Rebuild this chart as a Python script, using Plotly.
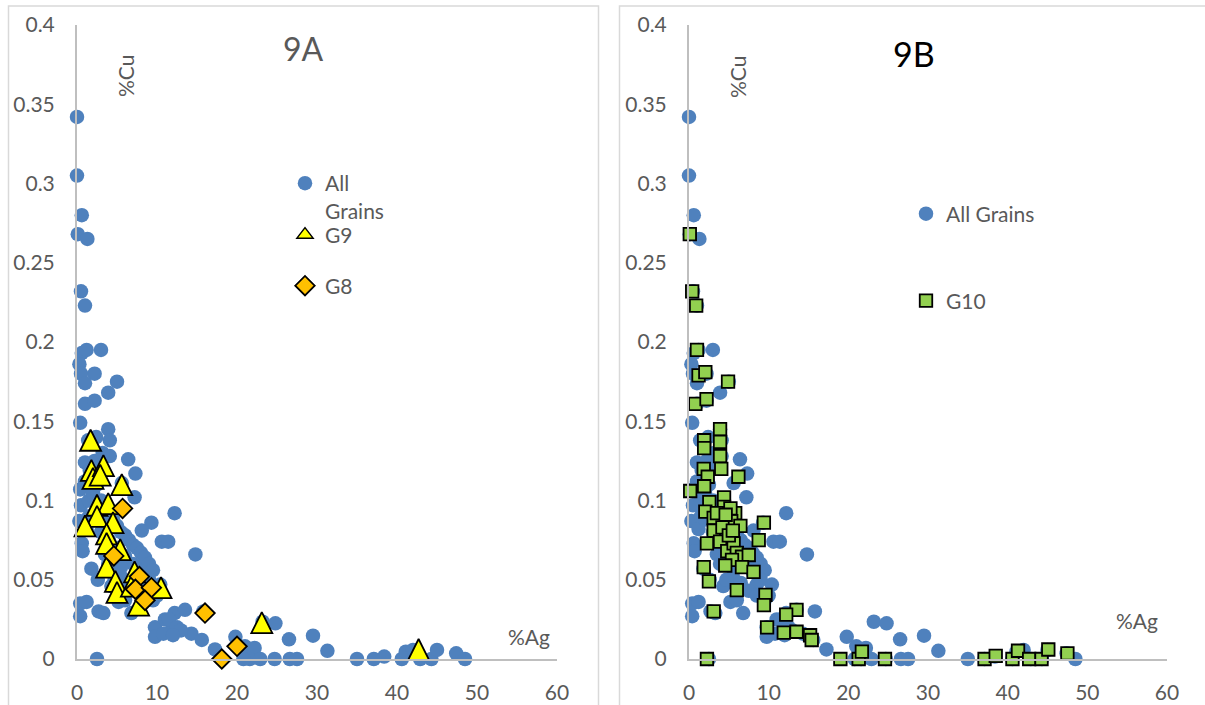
import plotly.graph_objects as go

# ---- data: %Ag (x) and %Cu (y) -------------------------------------------
all_ag = [0.0, 0.0, 0.6, 0.1, 1.3, 0.5, 1.0,
          0.6, 1.2, 3.0, 0.3, 0.5, 2.2, 1.0, 5.0, 3.9, 1.0, 2.2, 0.4,
          3.9, 4.1, 1.4, 2.4, 4.1, 1.0, 6.4, 7.3, 1.6, 2.8, 5.6, 0.4, 7.2, 12.2, 9.3,
          0.5, 0.3, 8.1, 10.6, 11.4, 14.8, 0.6, 0.7,
          1.8, 2.6, 5.2, 6.0, 6.8, 0.4, 1.2, 0.4, 2.7, 3.3, 2.5, 10.4, 7.9, 8.5,
          9.75, 11.0, 12.2, 13.5, 9.75, 11.8, 14.3, 15.6, 15.8, 17.25, 19.8, 21.0,
          22.2, 21.6, 22.9, 20.8, 23.2, 24.8, 26.5, 29.5, 31.3, 24.7, 26.6, 27.5,
          35.0, 37.1, 38.4, 40.6, 41.1, 42.0, 42.9, 44.3, 45.0, 47.4, 48.5,
          1.5, 2.0, 2.5, 3.0, 3.5, 4.0, 4.5, 5.0, 5.5, 6.0, 6.5, 7.0, 7.5, 8.0,
          8.5, 9.0, 9.5, 3.0, 4.0, 5.0, 6.0, 7.0, 8.0, 9.0, 5.5, 6.5, 7.5, 8.5,
          9.5, 1.2, 2.0, 3.5, 4.5, 5.5, 1.0, 2.2, 3.2, 1.5, 4.3, 4.7, 3.9, 10.0,
          11.5, 12.5, 13.0, 10.8, 12.0]
all_cu = [0.342, 0.305, 0.280, 0.268, 0.265, 0.232, 0.223,
          0.193, 0.195, 0.195, 0.186, 0.180, 0.180, 0.174, 0.175, 0.168, 0.161, 0.163, 0.149,
          0.145, 0.138, 0.138, 0.140, 0.128, 0.124, 0.126, 0.117, 0.119, 0.121, 0.111, 0.107, 0.102, 0.092, 0.086,
          0.097, 0.087, 0.081, 0.074, 0.074, 0.066, 0.073, 0.068,
          0.057, 0.050, 0.036, 0.037, 0.029, 0.035, 0.036, 0.027, 0.030, 0.029, 0.0, 0.047, 0.058, 0.047,
          0.020, 0.025, 0.029, 0.031, 0.014, 0.018, 0.016, 0.012, 0.030, 0.006, 0.014, 0.008,
          0.007, 0.0, 0.0, 0.0, 0.0235, 0.0225, 0.0124, 0.0147, 0.0052, 0.0, 0.0, 0.0,
          0.0, 0.0, 0.0015, 0.0, 0.0046, 0.0057, 0.0, 0.0, 0.0057, 0.0036, 0.0,
          0.100, 0.105, 0.110, 0.100, 0.094, 0.090, 0.088, 0.084, 0.080, 0.078, 0.075, 0.072, 0.070, 0.067,
          0.064, 0.060, 0.056, 0.080, 0.075, 0.070, 0.065, 0.060, 0.055, 0.050, 0.052, 0.048, 0.043, 0.040,
          0.037, 0.082, 0.088, 0.066, 0.060, 0.058, 0.112, 0.125, 0.130, 0.090, 0.046, 0.050, 0.060, 0.040,
          0.025, 0.020, 0.018, 0.016, 0.015]

g9_ag = [1.7, 1.8, 2.0, 3.3, 2.9, 5.6, 2.5, 3.9, 2.5, 1.0, 4.5, 3.7, 3.7, 5.4,
         3.7, 4.8, 5.0, 7.2, 6.8, 7.7, 10.5, 23.1, 42.7]
g9_cu = [0.138, 0.119, 0.114, 0.122, 0.116, 0.110, 0.097, 0.098, 0.090, 0.084, 0.086, 0.079, 0.073, 0.069,
         0.058, 0.049, 0.042, 0.055, 0.046, 0.034, 0.045, 0.023, 0.006]

g8_ag = [5.7, 4.6, 7.8, 7.3, 9.3, 8.5, 16.0, 20.0, 18.1]
g8_cu = [0.095, 0.065, 0.052, 0.044, 0.045, 0.037, 0.029, 0.008, 0.0]

g10_ag = [0.1, 0.4, 0.9, 1.0, 1.2, 2.05, 4.9, 0.8, 2.2,
          3.9, 1.9, 3.9, 1.9, 3.9, 1.85, 4.05, 2.35, 1.9, 0.15, 6.2, 2.55, 4.4, 4.4,
          2.05, 5.8, 3.1, 5.3, 6.45, 9.4, 3.1, 2.25, 3.9, 8.75, 4.8, 5.6, 6.0, 6.65,
          7.5, 5.4, 1.85, 4.55, 6.65, 8.1, 2.5, 6.0, 9.6, 9.4, 3.1, 13.5, 12.2, 9.8,
          11.9, 13.5, 15.2, 15.4, 2.25, 19.0, 21.3, 21.7, 24.6, 37.1, 38.5, 40.6,
          41.3, 42.7, 44.25, 45.1, 47.5, 4.2, 5.0, 3.5, 5.2, 4.6, 5.5]
g10_cu = [0.268, 0.232, 0.223, 0.195, 0.179, 0.181, 0.175, 0.161, 0.164,
          0.145, 0.138, 0.137, 0.133, 0.128, 0.120, 0.120, 0.115, 0.109, 0.106, 0.115, 0.099, 0.102, 0.096,
          0.093, 0.092, 0.089, 0.087, 0.084, 0.086, 0.081, 0.073, 0.074, 0.075, 0.068, 0.073, 0.067, 0.0645,
          0.0656, 0.0625, 0.058, 0.059, 0.058, 0.055, 0.049, 0.0435, 0.0404, 0.034, 0.030, 0.031, 0.028, 0.020,
          0.0166, 0.0172, 0.015, 0.012, 0.0, 0.0, 0.0, 0.0046, 0.0, 0.0, 0.002, 0.0,
          0.0052, 0.0, 0.0, 0.006, 0.0036, 0.083, 0.078, 0.092, 0.095, 0.091, 0.081]

x_ticks = [0, 10, 20, 30, 40, 50, 60]
y_ticks = [0, 0.05, 0.1, 0.15, 0.2, 0.25, 0.3, 0.35, 0.4]
y_tick_text = ["0", "0.05", "0.1", "0.15", "0.2", "0.25", "0.3", "0.35", "0.4"]

# ---- styling --------------------------------------------------------------
W, H = 1205, 705
FONT = "Lato, 'Open Sans', sans-serif"
GREY_TXT = "#595959"
AXIS_GREY = "#BFBFBF"
BLUE = "#4F81BD"
YELLOW = "#FFFF00"
TRI = 21  # triangle marker size (px)


def px(xp):
    return xp / W


def py(yp):
    return 1 - yp / H


fig = go.Figure()

common = dict(mode="markers", cliponaxis=False, hoverinfo="skip")

# left panel (9A)
fig.add_trace(go.Scatter(x=all_ag, y=all_cu, name="All<br>Grains", xaxis="x", yaxis="y",
                         marker=dict(color=BLUE, size=14.5, line=dict(width=0)),
                         legend="legend", **common))
# isosceles triangle: flipped arrow, pushed back by half its height so it is centred
fig.add_trace(go.Scatter(x=g9_ag, y=g9_cu, name="G9", xaxis="x", yaxis="y",
                         marker=dict(symbol="arrow-down", angle=180, color=YELLOW, size=TRI,
                                     standoff=TRI / 2, line=dict(color="black", width=1.8)),
                         showlegend=False, **common))
# legend key for G9 (no points of its own)
fig.add_trace(go.Scatter(x=[None], y=[None], name="G9", xaxis="x", yaxis="y",
                         marker=dict(symbol="triangle-up", color=YELLOW, size=14,
                                     line=dict(color="black", width=1.5)),
                         legend="legend2", **common))
fig.add_trace(go.Scatter(x=g8_ag, y=g8_cu, name="G8", xaxis="x", yaxis="y",
                         marker=dict(symbol="diamond", color="#FFC000", size=15,
                                     line=dict(color="black", width=1.8)),
                         legend="legend3", **common))

# right panel (9B)
fig.add_trace(go.Scatter(x=all_ag, y=all_cu, name="All Grains", xaxis="x2", yaxis="y2",
                         marker=dict(color=BLUE, size=14.5, line=dict(width=0)),
                         legend="legend4", **common))
fig.add_trace(go.Scatter(x=g10_ag, y=g10_cu, name="G10", xaxis="x2", yaxis="y2",
                         marker=dict(symbol="square", color="#92D050", size=12.5,
                                     line=dict(color="black", width=1.8)),
                         legend="legend5", **common))

xdom_l = [px(77), px(557)]
xdom_r = [px(689), px(1167)]
ydom = [1 - 659 / H, 1 - 25 / H]

xax = dict(range=[0, 60], tickvals=x_ticks, showgrid=False, zeroline=False,
           showline=True, linecolor=AXIS_GREY, linewidth=2, ticks="", automargin=False,
           ticklabelstandoff=14, tickfont=dict(family=FONT, size=21, color=GREY_TXT),
           fixedrange=True)
yax = dict(range=[0, 0.4], tickvals=y_ticks, ticktext=y_tick_text, showgrid=False,
           zeroline=False, showline=True, linecolor=AXIS_GREY, linewidth=2, ticks="",
           automargin=False, ticklabelstandoff=16,
           tickfont=dict(family=FONT, size=21, color=GREY_TXT),
           fixedrange=True, domain=ydom)

legend_base = dict(bgcolor="rgba(0,0,0,0)", borderwidth=0, xanchor="left",
                   font=dict(family=FONT, size=21, color=GREY_TXT),
                   itemclick=False, itemdoubleclick=False)


def label(text, x, y, size=21, color=GREY_TXT, angle=0):
    return dict(text=text, x=px(x), y=py(y), xref="paper", yref="paper",
                xanchor="center", yanchor="middle", showarrow=False, textangle=angle,
                font=dict(family=FONT, size=size, color=color))


fig.update_layout(
    width=W, height=H,
    margin=dict(l=0, r=0, t=0, b=0),
    paper_bgcolor="white", plot_bgcolor="white",
    showlegend=True,
    xaxis=dict(domain=xdom_l, anchor="y", **xax),
    yaxis=dict(anchor="x", **yax),
    xaxis2=dict(domain=xdom_r, anchor="y2", **xax),
    yaxis2=dict(anchor="x2", **yax),
    legend=dict(x=px(285), y=py(163), yanchor="top", valign="top", **legend_base),
    legend2=dict(x=px(285), y=py(235), yanchor="middle", **legend_base),
    legend3=dict(x=px(285), y=py(286), yanchor="middle", **legend_base),
    legend4=dict(x=px(906), y=py(214), yanchor="middle", **legend_base),
    legend5=dict(x=px(906), y=py(301), yanchor="middle", **legend_base),
    shapes=[
        dict(type="rect", xref="paper", yref="paper", x0=px(8.5), x1=px(598.5),
             y0=py(712), y1=py(6), line=dict(color="#D9D9D9", width=1.5)),
        dict(type="rect", xref="paper", yref="paper", x0=px(619.5), x1=px(1212),
             y0=py(712), y1=py(6), line=dict(color="#D9D9D9", width=1.5)),
    ],
    annotations=[
        label("9A", 303, 49, size=32),
        label("9B", 914, 53, size=34, color="black"),
        label("%Cu", 125, 76, angle=-90),
        label("%Cu", 737, 77, angle=-90),
        label("%Ag", 529, 636),
        label("%Ag", 1137, 620),
    ],
)

fig.write_html("out.html")
